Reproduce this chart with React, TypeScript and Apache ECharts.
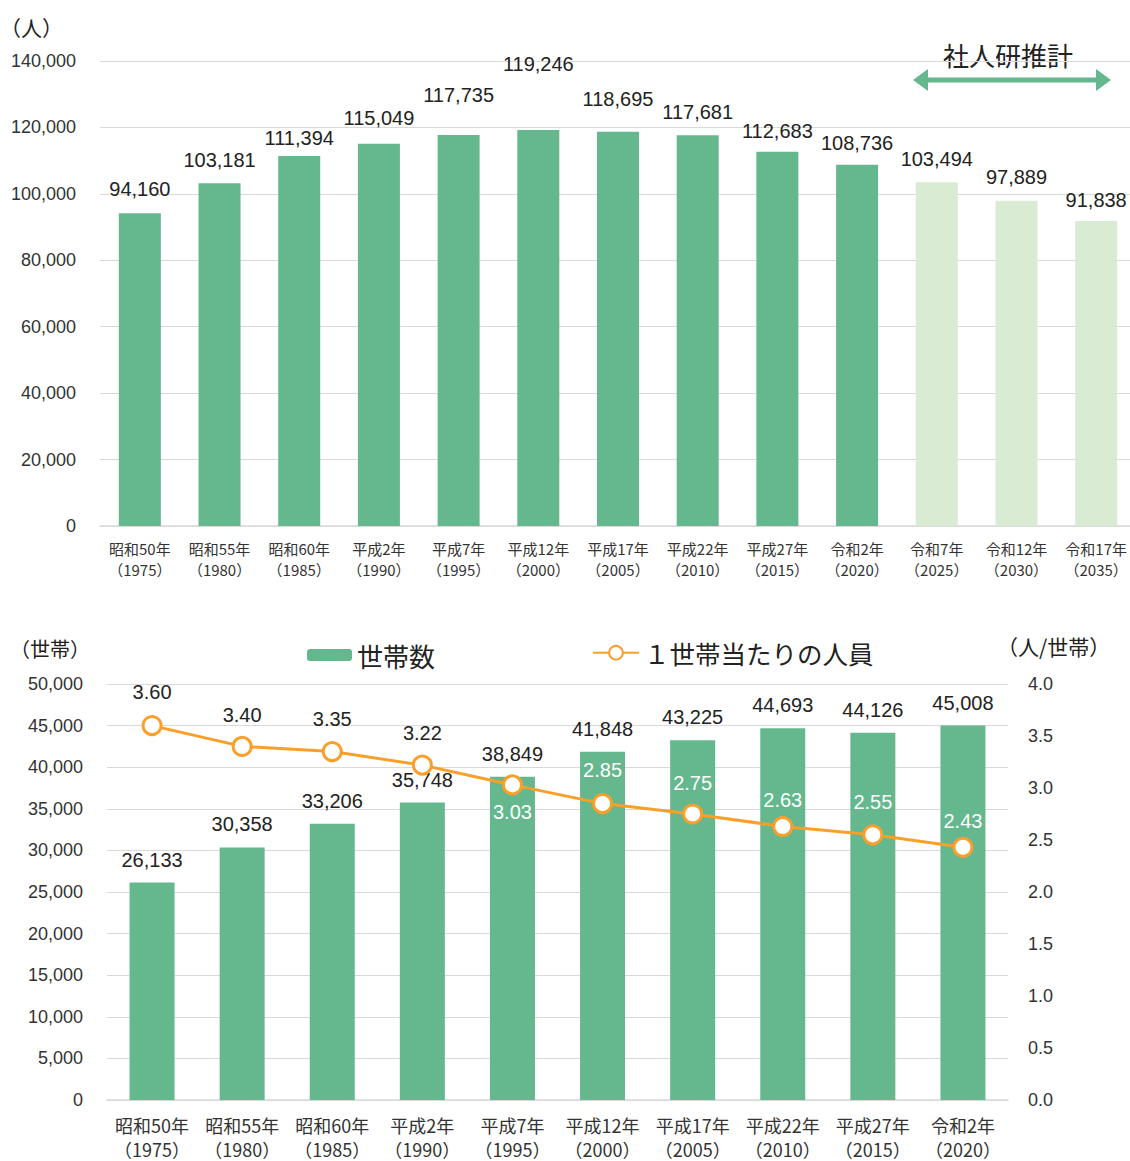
import React, { useEffect, useRef } from "react";
import * as echarts from "echarts";

// ---------- Data ----------
const popCategories = [
  "昭和50年\n（1975）",
  "昭和55年\n（1980）",
  "昭和60年\n（1985）",
  "平成2年\n（1990）",
  "平成7年\n（1995）",
  "平成12年\n（2000）",
  "平成17年\n（2005）",
  "平成22年\n（2010）",
  "平成27年\n（2015）",
  "令和2年\n（2020）",
  "令和7年\n（2025）",
  "令和12年\n（2030）",
  "令和17年\n（2035）",
];
const popValues = [94160, 103181, 111394, 115049, 117735, 119246, 118695, 117681, 112683, 108736, 103494, 97889, 91838];
const popProjectedFromIndex = 10;
const popAxisMax = 140000;
const popAxisInterval = 20000;

const hhCategories = [
  "昭和50年\n（1975）",
  "昭和55年\n（1980）",
  "昭和60年\n（1985）",
  "平成2年\n（1990）",
  "平成7年\n（1995）",
  "平成12年\n（2000）",
  "平成17年\n（2005）",
  "平成22年\n（2010）",
  "平成27年\n（2015）",
  "令和2年\n（2020）",
];
const hhValues = [26133, 30358, 33206, 35748, 38849, 41848, 43225, 44693, 44126, 45008];
const perHhValues = [3.6, 3.4, 3.35, 3.22, 3.03, 2.85, 2.75, 2.63, 2.55, 2.43];
const hhAxisMax = 50000;
const hhAxisInterval = 5000;
const perHhAxisMax = 4;
const perHhAxisInterval = 0.5;

// ---------- Label layout tweaks (style, not data) ----------
const popLabelDistance = [14, 13, 8, 16, 30, 56, 23, 13, 11, 12, 13, 14, 11];
const perHhLabelPos = ["top", "top", "top", "top", "bottom", "top", "top", "top", "top", "top"];
const perHhLabelDistance = [13, 11, 12, 12, 7, 13, 11, 6, 12, 6];
const perHhLabelWhiteFrom = 4;

// ---------- Styles ----------
const GREEN = "#65b88e";
const LIGHT_GREEN = "#d9ebd3";
const ORANGE = "#f99f2a";
const GRID = "#d9d9d9";
const TEXT = "#222";
const NUM_FONT = "'Liberation Sans', 'Noto Sans CJK JP', sans-serif";
const JP_FONT = "'Noto Sans CJK JP', 'Liberation Sans', sans-serif";

const fmt = (v: number) => v.toLocaleString("en-US");

export default function App() {
  const ref = useRef<HTMLDivElement>(null);

  useEffect(() => {
    if (!ref.current) return;
    const chart = echarts.init(ref.current, undefined, { renderer: "svg" });

    const option: any = {
      animation: false,
      backgroundColor: "#fff",
      textStyle: { fontFamily: NUM_FONT },
      legend: [
        {
          left: 302,
          top: 637,
          itemWidth: 45,
          itemHeight: 12,
          textStyle: { fontSize: 26, color: TEXT, fontFamily: JP_FONT },
          data: ["世帯数"],
        },
        {
          left: 587,
          top: 635,
          itemWidth: 46,
          itemHeight: 17,
          textStyle: { fontSize: 25.5, color: TEXT, fontFamily: JP_FONT },
          data: ["１世帯当たりの人員"],
        },
      ],
      grid: [
        { left: 100, top: 61, width: 1036, height: 465 },
        { left: 107, top: 684, width: 901, height: 418 },
      ],
      xAxis: [
        {
          type: "category",
          gridIndex: 0,
          data: popCategories,
          axisTick: { show: false },
          axisLine: { lineStyle: { color: GRID, width: 1.5 } },
          axisLabel: {
            interval: 0,
            fontSize: 15,
            lineHeight: 21,
            margin: 12,
            color: "#333",
            fontFamily: JP_FONT,
          },
        },
        {
          type: "category",
          gridIndex: 1,
          data: hhCategories,
          axisTick: { show: false },
          axisLine: { lineStyle: { color: GRID, width: 1.5 } },
          axisLabel: {
            interval: 0,
            fontSize: 18,
            lineHeight: 24,
            margin: 13,
            color: "#333",
            fontFamily: JP_FONT,
          },
        },
      ],
      yAxis: [
        {
          type: "value",
          gridIndex: 0,
          min: 0,
          max: popAxisMax,
          interval: popAxisInterval,
          axisLine: { show: false },
          axisTick: { show: false },
          splitLine: { lineStyle: { color: GRID } },
          axisLabel: { fontSize: 18, color: "#333", margin: 24, formatter: (v: number) => fmt(v) },
        },
        {
          type: "value",
          gridIndex: 1,
          min: 0,
          max: hhAxisMax,
          interval: hhAxisInterval,
          axisLine: { show: false },
          axisTick: { show: false },
          splitLine: { lineStyle: { color: GRID } },
          axisLabel: { fontSize: 18, color: "#333", margin: 24, formatter: (v: number) => fmt(v) },
        },
        {
          type: "value",
          gridIndex: 1,
          position: "right",
          min: 0,
          max: perHhAxisMax,
          interval: perHhAxisInterval,
          axisLine: { show: false },
          axisTick: { show: false },
          splitLine: { show: false },
          axisLabel: { fontSize: 18, color: "#333", margin: 20, formatter: (v: number) => v.toFixed(1) },
        },
      ],
      series: [
        {
          type: "bar",
          name: "人口",
          xAxisIndex: 0,
          yAxisIndex: 0,
          barWidth: 42,
          data: popValues.map((v, i) => ({
            value: v,
            itemStyle: { color: i >= popProjectedFromIndex ? LIGHT_GREEN : GREEN },
            label: { distance: popLabelDistance[i] },
          })),
          label: {
            show: true,
            position: "top",
            fontSize: 20,
            color: TEXT,
            formatter: (p: any) => fmt(p.value),
          },
        },
        {
          type: "bar",
          name: "世帯数",
          xAxisIndex: 1,
          yAxisIndex: 1,
          barWidth: 45,
          itemStyle: { color: GREEN },
          data: hhValues,
          label: {
            show: true,
            position: "top",
            distance: 13,
            fontSize: 20,
            color: TEXT,
            formatter: (p: any) => fmt(p.value),
          },
          z: 2,
        },
        {
          type: "line",
          name: "１世帯当たりの人員",
          xAxisIndex: 1,
          yAxisIndex: 2,
          symbol: "circle",
          symbolSize: 18,
          lineStyle: { color: ORANGE, width: 3 },
          itemStyle: { color: "#fff", borderColor: ORANGE, borderWidth: 3 },
          data: perHhValues.map((v, i) => ({
            value: v,
            label: {
              position: perHhLabelPos[i],
              distance: perHhLabelDistance[i],
              color: i >= perHhLabelWhiteFrom ? "#fff" : TEXT,
            },
          })),
          label: {
            show: true,
            fontSize: 20,
            formatter: (p: any) => Number(p.value).toFixed(2),
          },
          z: 5,
        },
      ],
      graphic: [
        {
          type: "text",
          left: 0,
          top: 16,
          style: { text: "（人）", fontSize: 21, fill: TEXT, fontFamily: JP_FONT },
        },
        {
          type: "text",
          left: 10,
          top: 638,
          style: { text: "（世帯）", fontSize: 20, fill: TEXT, fontFamily: JP_FONT },
        },
        {
          type: "text",
          left: 997,
          top: 635,
          style: { text: "（人/世帯）", fontSize: 21, fill: TEXT, fontFamily: JP_FONT },
        },
        {
          type: "text",
          x: 1008,
          y: 54,
          style: {
            text: "社人研推計",
            fontSize: 26,
            fill: TEXT,
            fontFamily: JP_FONT,
            align: "center",
            verticalAlign: "middle",
          },
        },
        {
          type: "line",
          shape: { x1: 924, y1: 80, x2: 1100, y2: 80 },
          style: { stroke: GREEN, lineWidth: 5 },
        },
        {
          type: "polygon",
          shape: { points: [[913, 80], [928, 69], [928, 91]] },
          style: { fill: GREEN },
        },
        {
          type: "polygon",
          shape: { points: [[1111, 80], [1096, 69], [1096, 91]] },
          style: { fill: GREEN },
        },
      ],
    };

    chart.setOption(option);
    return () => chart.dispose();
  }, []);

  return (
    <div style={{ position: "absolute", left: 0, top: 0, width: 1130, height: 1161, overflow: "hidden", background: "#fff" }}>
      <div ref={ref} style={{ width: 1140, height: 1161 }} />
    </div>
  );
}
